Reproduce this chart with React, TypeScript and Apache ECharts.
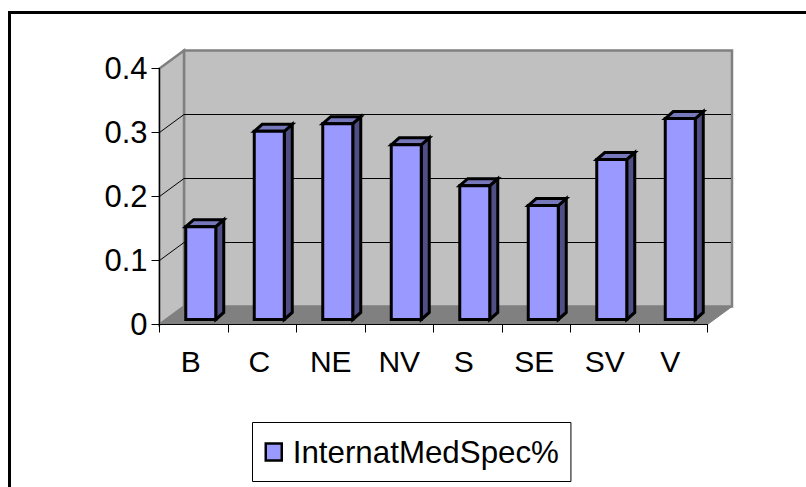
import React, { useEffect, useRef } from "react";
import * as echarts from "echarts";

const categories = ["B", "C", "NE", "NV", "S", "SE", "SV", "V"];
const labelShifts = [6, 6, 0, 0, 8, 4, 0, 6];
const values = [0.145, 0.294, 0.306, 0.273, 0.209, 0.178, 0.25, 0.314];
const tickValues = [0, 0.1, 0.2, 0.3, 0.4];
const seriesName = "InternatMedSpec%";

const DEPTH_X = 24.5;
const DEPTH_Y = -18;
const BAR_OFF_X = 7;
const BAR_OFF_Y = -5;
const BAR_W = 30;
const SIDE_X = 8;
const SIDE_Y = -7;
const FONT = "'Liberation Sans', Arial, sans-serif";

function renderWalls(params: any, api: any) {
  const { x, y, width, height } = params.coordSys;
  const left = x;
  const right = x + width;
  const bottom = y + height;
  const top = y;
  const children: any[] = [];
  children.push({
    type: "polygon",
    shape: { points: [[left + DEPTH_X, top + DEPTH_Y], [right + DEPTH_X, top + DEPTH_Y], [right + DEPTH_X, bottom + DEPTH_Y], [left + DEPTH_X, bottom + DEPTH_Y]] },
    style: { fill: "#c0c0c0", stroke: "#808080", lineWidth: 2.5 },
  });
  children.push({
    type: "polygon",
    shape: { points: [[left, top], [left + DEPTH_X, top + DEPTH_Y], [left + DEPTH_X, bottom + DEPTH_Y], [left, bottom]] },
    style: { fill: "#c0c0c0", stroke: "#808080", lineWidth: 2.5 },
  });
  children.push({
    type: "polygon",
    shape: { points: [[left, bottom], [left + DEPTH_X, bottom + DEPTH_Y], [right + DEPTH_X, bottom + DEPTH_Y], [right, bottom]] },
    style: { fill: "#808080", stroke: "#808080", lineWidth: 1 },
  });
  tickValues.slice(1, -1).forEach((t) => {
    const py = api.coord([0, t])[1];
    children.push({
      type: "polyline",
      shape: { points: [[left, py], [left + DEPTH_X, py + DEPTH_Y], [right + DEPTH_X - 1, py + DEPTH_Y]] },
      style: { fill: "none", stroke: "#000", lineWidth: 1 },
    });
  });
  return { type: "group", children };
}

function renderBar(params: any, api: any) {
  const p = api.coord([api.value(0), api.value(1)]);
  const b = api.coord([api.value(0), 0]);
  const x0 = p[0] + BAR_OFF_X - BAR_W / 2;
  const x1 = x0 + BAR_W;
  const yt = p[1] + BAR_OFF_Y;
  const yb = b[1] + BAR_OFF_Y;
  const base = { stroke: "#000", lineWidth: 3, lineJoin: "miter" };
  return {
    type: "group",
    children: [
      {
        type: "polygon",
        shape: { points: [[x1, yb], [x1 + SIDE_X, yb + SIDE_Y], [x1 + SIDE_X, yt + SIDE_Y], [x1, yt]] },
        style: { ...base, fill: "#4f4f85" },
      },
      {
        type: "polygon",
        shape: { points: [[x0, yt], [x0 + SIDE_X, yt + SIDE_Y], [x1 + SIDE_X, yt + SIDE_Y], [x1, yt]] },
        style: { ...base, fill: "#7777bb" },
      },
      {
        type: "rect",
        shape: { x: x0, y: yt, width: BAR_W, height: yb - yt },
        style: { ...base, fill: "#9999ff" },
      },
    ],
  };
}

export default function App() {
  const ref = useRef<HTMLDivElement>(null);
  useEffect(() => {
    const chart = echarts.init(ref.current!, undefined, { renderer: "svg" });
    chart.setOption({
      animation: false,
      backgroundColor: "#fff",
      grid: { left: 159.5, top: 68.5, width: 548, height: 256 },
      xAxis: {
        type: "category",
        data: categories.map((c, i) => ({
          value: c,
          textStyle: { padding: [0, labelShifts[i], 0, 0] },
        })),
        boundaryGap: true,
        axisLine: { show: true, lineStyle: { color: "#000", width: 1 } },
        axisTick: { show: true, length: 8, lineStyle: { color: "#000" }, alignWithLabel: false },
        axisLabel: { color: "#000", fontFamily: FONT, fontSize: 30, margin: 22, interval: 0 },
        splitLine: { show: false },
        z: 5,
      },
      yAxis: {
        type: "value",
        min: 0,
        max: 0.4,
        interval: 0.1,
        axisLine: { show: true, lineStyle: { color: "#000", width: 1 } },
        axisTick: { show: true, length: 8, lineStyle: { color: "#000" } },
        axisLabel: { color: "#000", fontFamily: FONT, fontSize: 31, margin: 12, formatter: (v: number) => String(v) },
        splitLine: { show: false },
        z: 5,
      },
      legend: {
        show: true,
        left: 252.5,
        top: 422.5,
        padding: [14, 12, 14, 12],
        data: [{ name: seriesName, icon: "rect" }],
        itemWidth: 16,
        itemHeight: 17,
        itemGap: 0,
        borderColor: "#000",
        borderWidth: 1,
        backgroundColor: "#fff",
        selectedMode: false,
        textStyle: { color: "#000", fontFamily: FONT, fontSize: 31.3, padding: [0, 0, 0, 6] },
        itemStyle: { color: "#9999ff", borderColor: "#000", borderWidth: 2.5 },
      },
      graphic: [
        {
          type: "polyline",
          shape: { points: [[9.5, 487], [9.5, 12.5], [806, 12.5]] },
          style: { fill: "none", stroke: "#000", lineWidth: 3 },
          z: 20,
          silent: true,
        },
      ],
      series: [
        {
          id: "walls",
          type: "custom",
          renderItem: renderWalls,
          data: [[0, 0]],
          z: 1,
          silent: true,
          clip: false,
          legendHoverLink: false,
        },
        {
          name: seriesName,
          type: "custom",
          renderItem: renderBar,
          encode: { x: 0, y: 1 },
          data: values.map((v, i) => [i, v]),
          itemStyle: { color: "#9999ff" },
          z: 3,
          clip: false,
        },
      ],
    });
    return () => chart.dispose();
  }, []);
  return <div ref={ref} style={{ position: "absolute", left: 0, top: 0, width: 806, height: 487 }} />;
}
